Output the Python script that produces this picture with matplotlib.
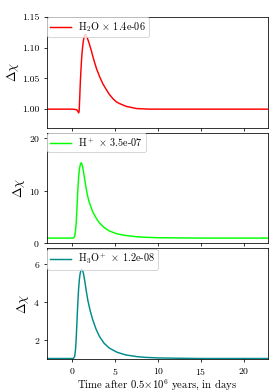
"""
Abundance response after the 0.5 Myr perturbation
Three stacked panels, one per species, sharing the time axis.
"""

import matplotlib
matplotlib.use("Agg")
import matplotlib.pyplot as plt
from matplotlib.ticker import FormatStrFormatter

# ---------------------------------------------------------------------------
# Data
# ---------------------------------------------------------------------------

T_H2O = [-3.0, 0.0, 0.5, 0.65, 0.72, 0.78, 0.85, 0.92, 1.00, 1.08, 1.16, 1.25,
         1.35, 1.45, 1.55, 1.65, 1.80, 1.99, 2.20, 2.45, 2.80, 3.16, 3.55,
         3.94, 4.30, 4.72, 5.10, 5.50, 6.28, 7.45, 9.0, 22.8]
V_H2O = [1.000, 1.000, 0.999, 0.996, 0.994, 0.997, 1.020, 1.045, 1.066, 1.085,
         1.098, 1.109, 1.117, 1.121, 1.121, 1.118, 1.113, 1.105, 1.095, 1.082,
         1.066, 1.053, 1.041, 1.032, 1.024, 1.017, 1.012, 1.009, 1.0045, 1.001,
         1.000, 1.000]

T_HP = [-3.0, 0.10, 0.25, 0.35, 0.43, 0.52, 0.62, 0.72, 0.82, 0.92, 1.00,
        1.08, 1.18, 1.30, 1.45, 1.60, 1.78, 2.00, 2.36, 2.80, 3.14, 3.70,
        4.30, 5.20, 6.20, 7.50, 8.50, 10.0, 12.5, 15.0, 22.8]
V_HP = [1.0, 1.0, 1.3, 2.3, 3.8, 6.5, 10.0, 12.6, 14.2, 15.0, 15.3,
        15.2, 14.6, 13.5, 11.9, 10.4, 8.9, 7.6, 6.0, 4.7, 3.9, 3.0,
        2.35, 1.8, 1.5, 1.25, 1.15, 1.07, 1.03, 1.0, 1.0]

T_H3OP = [-3.0, 0.10, 0.25, 0.35, 0.43, 0.52, 0.62, 0.72, 0.81, 0.90, 1.00,
          1.08, 1.18, 1.30, 1.45, 1.60, 1.78, 2.05, 2.36, 2.75, 3.14, 3.70,
          4.30, 5.20, 6.20, 7.50, 8.50, 10.0, 13.0, 15.0, 22.8]
V_H3OP = [1.0, 1.0, 1.1, 1.45, 2.0, 2.9, 3.9, 4.7, 5.2, 5.5, 5.68,
          5.72, 5.65, 5.45, 5.05, 4.6, 4.1, 3.55, 3.05, 2.55, 2.17, 1.8,
          1.55, 1.33, 1.19, 1.1, 1.06, 1.03, 1.01, 1.0, 1.0]

LABELS = [r"H$_2$O $\times$ 1.4e-06",
          r"H$^+$ $\times$ 3.5e-07",
          r"H$_3$O$^+$ $\times$ 1.2e-08"]
COLORS = ["red", "lime", "darkcyan"]
YLIMS  = [(0.970, 1.15), (0.0, 21.05), (0.97, 6.82)]
YTICKS = [[1.00, 1.05, 1.10, 1.15], [0, 10, 20], [2, 4, 6]]
XTICKS = [0, 5, 10, 15, 20]

# ---------------------------------------------------------------------------
# Plot
# ---------------------------------------------------------------------------

plt.rcParams.update({
    "font.family": "serif",
    "font.serif": ["cmr10"],
    "mathtext.fontset": "cm",
    "axes.formatter.use_mathtext": True,
    "axes.unicode_minus": False,
    "font.size": 10,
})


def main():
    series = [(T_H2O, V_H2O), (T_HP, V_HP), (T_H3OP, V_H3OP)]

    fig, axes = plt.subplots(3, 1, sharex=True, figsize=(4.0, 5.6), dpi=70)
    fig.subplots_adjust(left=0.167, right=0.958, top=0.957, bottom=0.084,
                        hspace=0.045)

    for ax, (t, v), label, color, ylim, yt in zip(axes, series, LABELS,
                                                   COLORS, YLIMS, YTICKS):
        ax.plot(t, v, color=color, lw=1.5, label=label)
        ax.set_ylim(*ylim)
        ax.set_yticks(yt)
        ax.set_ylabel(r"$\Delta\chi$", fontsize=13, labelpad=2)
        ax.legend(loc="upper left", borderaxespad=0.05, fontsize=10.5,
                  borderpad=0.3, handlelength=2.0, handletextpad=0.75)

    axes[0].yaxis.set_major_formatter(FormatStrFormatter("%.2f"))
    axes[-1].set_xlim(-3, 22.84)
    axes[-1].set_xticks(XTICKS)
    axes[-1].set_xlabel(r"Time after 0.5$\times10^6$ years, in days",
                        fontsize=11, labelpad=1)

    fig.savefig("out.png", dpi=70)
    plt.close(fig)


if __name__ == "__main__":
    main()
